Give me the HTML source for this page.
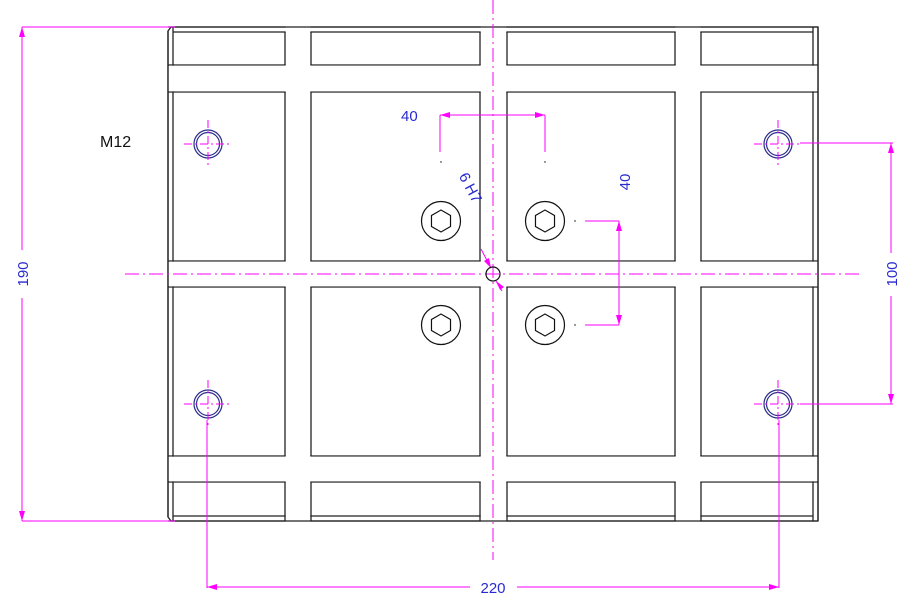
<!DOCTYPE html>
<html><head><style>body{margin:0;background:#fff}svg{display:block}</style></head><body>
<svg width="919" height="609" viewBox="0 0 919 609" xmlns="http://www.w3.org/2000/svg" font-family="Liberation Sans, sans-serif">
<defs>
<g id="hex"><circle r="19.5" fill="none" stroke="#111" stroke-width="1.2"/><polygon points="11,0 5.5,9.5 -5.5,9.5 -11,0 -5.5,-9.5 5.5,-9.5" fill="none" stroke="#111" stroke-width="1.2" transform="rotate(30)"/></g>
<g id="m12"><circle r="14" fill="none" stroke="#2a2a8a" stroke-width="1.2"/><circle r="11.5" fill="none" stroke="#2a2a8a" stroke-width="1.2"/><line x1="-24" y1="0" x2="24" y2="0" stroke="#f0f" stroke-dasharray="8,3,2,3"/><line x1="0" y1="-24" x2="0" y2="24" stroke="#f0f" stroke-dasharray="8,3,2,3"/></g>
</defs>
<g stroke="#222" stroke-width="1.3" fill="none">
<path d="M171,27 L818,27 L818,521 L171,521 L168,517 L168,31 Z"/>
<line x1="173" y1="27" x2="173" y2="521"/><line x1="813" y1="27" x2="813" y2="521"/>
<line x1="173" y1="32" x2="813" y2="32"/><line x1="173" y1="516" x2="813" y2="516"/>
<line x1="168" y1="65" x2="818" y2="65"/><line x1="168" y1="92" x2="818" y2="92"/>
<line x1="168" y1="261" x2="818" y2="261"/><line x1="168" y1="287" x2="818" y2="287"/>
<line x1="168" y1="456" x2="818" y2="456"/><line x1="168" y1="482" x2="818" y2="482"/>
</g>
<g fill="#fff">
<rect x="285.7" y="26" width="24.6" height="496"/><rect x="480.7" y="26" width="25.6" height="496"/><rect x="675.7" y="26" width="24.6" height="496"/>
<rect x="168.8" y="65.7" width="648.4" height="25.6"/><rect x="168.8" y="261.7" width="648.4" height="24.6"/><rect x="168.8" y="456.7" width="648.4" height="24.6"/>
</g>
<g stroke="#222" stroke-width="1.3">
<line x1="285" y1="32" x2="285" y2="65"/><line x1="311" y1="32" x2="311" y2="65"/><line x1="480" y1="32" x2="480" y2="65"/><line x1="507" y1="32" x2="507" y2="65"/><line x1="675" y1="32" x2="675" y2="65"/><line x1="701" y1="32" x2="701" y2="65"/>
<line x1="285" y1="92" x2="285" y2="261"/><line x1="311" y1="92" x2="311" y2="261"/><line x1="480" y1="92" x2="480" y2="261"/><line x1="507" y1="92" x2="507" y2="261"/><line x1="675" y1="92" x2="675" y2="261"/><line x1="701" y1="92" x2="701" y2="261"/>
<line x1="285" y1="287" x2="285" y2="456"/><line x1="311" y1="287" x2="311" y2="456"/><line x1="480" y1="287" x2="480" y2="456"/><line x1="507" y1="287" x2="507" y2="456"/><line x1="675" y1="287" x2="675" y2="456"/><line x1="701" y1="287" x2="701" y2="456"/>
<line x1="285" y1="482" x2="285" y2="521"/><line x1="311" y1="482" x2="311" y2="521"/><line x1="480" y1="482" x2="480" y2="521"/><line x1="507" y1="482" x2="507" y2="521"/><line x1="675" y1="482" x2="675" y2="521"/><line x1="701" y1="482" x2="701" y2="521"/>
<line x1="168" y1="27" x2="818" y2="27"/><line x1="168" y1="521" x2="818" y2="521"/>
<line x1="168" y1="31" x2="168" y2="517"/><line x1="818" y1="27" x2="818" y2="521"/>
</g>
<g stroke="#f0f" stroke-width="1" fill="none">
<line x1="493" y1="0" x2="493" y2="560" stroke-dasharray="14,4,2,4"/>
<line x1="125" y1="274" x2="862" y2="274" stroke-dasharray="14,4,2,4"/>
<line x1="22" y1="27" x2="175" y2="27"/><line x1="22" y1="521" x2="175" y2="521"/>
<line x1="22" y1="27" x2="22" y2="250"/><line x1="22" y1="298" x2="22" y2="521"/>
<line x1="800" y1="143" x2="893" y2="143"/><line x1="800" y1="404" x2="893" y2="404"/>
<line x1="891" y1="143" x2="891" y2="253"/><line x1="891" y1="296" x2="891" y2="404"/>
<line x1="207" y1="420" x2="207" y2="588"/><line x1="779" y1="420" x2="779" y2="588"/>
<line x1="207" y1="587" x2="470" y2="587"/><line x1="517" y1="587" x2="779" y2="587"/>
<line x1="440" y1="115" x2="545" y2="115"/><line x1="440" y1="115" x2="440" y2="152"/><line x1="545" y1="115" x2="545" y2="152"/>
<line x1="585" y1="221" x2="619" y2="221"/><line x1="585" y1="325" x2="619" y2="325"/><line x1="619" y1="221" x2="619" y2="325"/>
<line x1="481" y1="249" x2="491" y2="268"/><line x1="496" y1="281" x2="502" y2="291"/>
</g>
<g fill="#f0f">
<polygon points="22,27 19,37 25,37"/><polygon points="22,521 19,511 25,511"/>
<polygon points="891,143 888,153 894,153"/><polygon points="891,404 888,394 894,394"/>
<polygon points="207,587 217,584 217,590"/><polygon points="779,587 769,584 769,590"/>
<polygon points="440,115 450,112 450,118"/><polygon points="545,115 535,112 535,118"/>
<polygon points="619,221 616,231 622,231"/><polygon points="619,325 616,315 622,315"/>
<polygon points="491,268 484,261 489,258"/><polygon points="496,281 504,287 500,290"/>
</g>
<circle cx="493" cy="274" r="7" fill="none" stroke="#111" stroke-width="1.2"/>
<use href="#hex" x="441" y="221"/><use href="#hex" x="545" y="221"/><use href="#hex" x="441" y="325"/><use href="#hex" x="545" y="325"/>
<use href="#m12" x="208" y="144"/><use href="#m12" x="778" y="144"/><use href="#m12" x="208" y="404"/><use href="#m12" x="778" y="404"/>
<g fill="#000"><circle cx="441" cy="162" r="0.7"/><circle cx="545" cy="162" r="0.7"/><circle cx="575" cy="221" r="0.7"/><circle cx="575" cy="325" r="0.7"/></g>
<text x="100" y="147" font-size="16" fill="#111">M12</text>
<g fill="#2a2ad0" font-size="15">
<text x="401" y="121">40</text>
<text x="493" y="593" text-anchor="middle">220</text>
<text transform="translate(28,274) rotate(-90)" text-anchor="middle">190</text>
<text transform="translate(897,274) rotate(-90)" text-anchor="middle">100</text>
<text transform="translate(630,182) rotate(-90)" text-anchor="middle">40</text>
<text transform="translate(466,190) rotate(62)" text-anchor="middle">6 H7</text>
</g>
</svg>
</body></html>
